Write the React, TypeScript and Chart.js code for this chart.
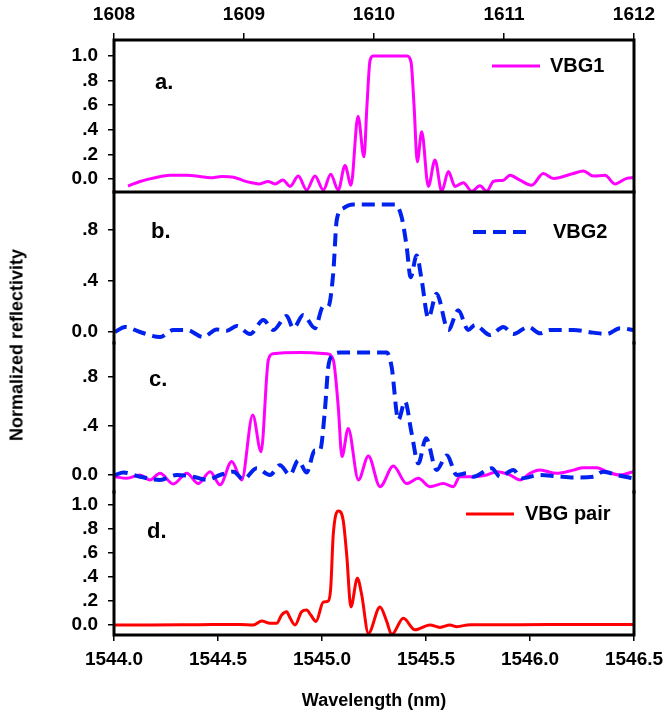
import React, { useEffect, useRef } from 'react';
import { Chart, registerables } from 'chart.js';

Chart.register(...registerables);

const FONT = '"Liberation Sans", Arial, Helvetica, sans-serif';
const MAGENTA = '#ff00ff';
const BLUE = '#0022ee';
const RED = '#ff0000';

// ---------- tick labels ----------
const X_TOP_TICKS = [1608, 1609, 1610, 1611, 1612];
const X_TOP_LABELS = ['1608', '1609', '1610', '1611', '1612'];
const X_BOTTOM_TICKS = [1544.0, 1544.5, 1545.0, 1545.5, 1546.0, 1546.5];
const X_BOTTOM_LABELS = ['1544.0', '1544.5', '1545.0', '1545.5', '1546.0', '1546.5'];
const Y_TICKS_FULL = [0, 0.2, 0.4, 0.6, 0.8, 1.0];
const Y_LABELS_FULL = ['0.0', '.2', '.4', '.6', '.8', '1.0'];
const Y_TICKS_SPARSE = [0, 0.4, 0.8];
const Y_LABELS_SPARSE = ['0.0', '.4', '.8'];

// ---------- panel a: VBG1 (top wavelength axis, nm) ----------
const VBG1_A_WL = [
  1608.108, 1608.2, 1608.315, 1608.43, 1608.56, 1608.66, 1608.74, 1608.83, 1608.92, 1609.0,
  1609.06, 1609.12, 1609.185, 1609.238, 1609.3, 1609.354, 1609.418, 1609.482, 1609.546, 1609.61,
  1609.667, 1609.725, 1609.777, 1609.823, 1609.877, 1609.923, 1609.946, 1609.969, 1609.992, 1610.12,
  1610.254, 1610.285, 1610.308, 1610.333, 1610.367, 1610.418, 1610.469, 1610.521, 1610.572, 1610.623,
  1610.687, 1610.752, 1610.815, 1610.867, 1610.918, 1610.995, 1611.046, 1611.123, 1611.213, 1611.302,
  1611.38, 1611.533, 1611.61, 1611.687, 1611.777, 1611.854, 1611.944, 1612.0,
];
const VBG1_A_R = [
  -0.057, -0.02, 0.01, 0.03, 0.03, 0.02, 0.01, 0.02, 0.015, -0.015,
  -0.03, -0.04, -0.02, -0.04, -0.008, -0.06, 0.024, -0.09, 0.024, -0.09,
  0.038, -0.09, 0.11, -0.05, 0.51, 0.18, 0.6, 0.96, 1.0, 1.0,
  1.0, 0.95, 0.6, 0.14, 0.385, -0.06, 0.155, -0.1, 0.06, -0.06,
  -0.03, -0.1, -0.055, -0.1, -0.02, -0.01, 0.03, -0.01, -0.05, 0.045,
  0.005, 0.045, 0.065, 0.024, 0.03, -0.04, 0.005, 0.01,
];

// ---------- panel b: VBG2 ----------
const VBG2_B_WL = [
  1544.005, 1544.053, 1544.125, 1544.221, 1544.285, 1544.35, 1544.429, 1544.494, 1544.542, 1544.59,
  1544.654, 1544.718, 1544.766, 1544.83, 1544.862, 1544.91, 1544.966, 1545.006, 1545.03, 1545.054,
  1545.071, 1545.102, 1545.15, 1545.255, 1545.351, 1545.383, 1545.407, 1545.426, 1545.455, 1545.479,
  1545.511, 1545.551, 1545.607, 1545.655, 1545.703, 1545.736, 1545.808, 1545.872, 1545.92, 1545.992,
  1546.048, 1546.096, 1546.208, 1546.304, 1546.369, 1546.433, 1546.497,
];
const VBG2_B_R = [
  0.0, 0.04, 0.0, -0.04, 0.016, 0.016, -0.04, 0.02, 0.01, 0.047,
  -0.016, 0.094, 0.016, 0.125, 0.03, 0.133, 0.03, 0.2, 0.2, 0.46,
  0.88, 0.97, 1.0, 1.0, 1.0, 0.9, 0.67, 0.43, 0.6, 0.41,
  0.11, 0.3, 0.016, 0.17, 0.016, 0.055, -0.024, 0.04, -0.016, 0.04,
  -0.01, 0.016, 0.016, -0.005, -0.016, 0.03, 0.016,
];

// ---------- panel c: VBG1 and VBG2 ----------
const VBG2_C_WL = [
  1544.005, 1544.045, 1544.125, 1544.221, 1544.301, 1544.381, 1544.446, 1544.51, 1544.574, 1544.622,
  1544.686, 1544.75, 1544.798, 1544.846, 1544.886, 1544.926, 1544.966, 1544.99, 1545.014, 1545.03,
  1545.054, 1545.087, 1545.207, 1545.311, 1545.335, 1545.367, 1545.399, 1545.431, 1545.463, 1545.5,
  1545.551, 1545.6, 1545.648, 1545.696, 1545.727, 1545.816, 1545.856, 1545.92, 1545.96, 1546.048,
  1546.128, 1546.208, 1546.304, 1546.352, 1546.417, 1546.497,
];
const VBG2_C_R = [
  0.0, 0.02, -0.014, -0.04, 0.0, -0.014, -0.04, 0.0, 0.027, -0.035,
  0.055, 0.0, 0.08, 0.0, 0.12, 0.02, 0.2, 0.2, 0.53, 0.88,
  0.98, 1.0, 1.0, 1.0, 0.88, 0.45, 0.6, 0.34, 0.095, 0.3,
  0.04, 0.16, 0.0, 0.014, -0.014, 0.055, -0.014, 0.04, -0.027, 0.0,
  -0.01, -0.02, -0.014, 0.027, 0.0, -0.027,
];
const VBG1_C_WL = [
  1544.005, 1544.061, 1544.125, 1544.173, 1544.221, 1544.285, 1544.35, 1544.405, 1544.462, 1544.51,
  1544.566, 1544.614, 1544.667, 1544.707, 1544.742, 1544.765, 1544.894, 1545.023, 1545.054, 1545.078,
  1545.096, 1545.126, 1545.175, 1545.223, 1545.279, 1545.343, 1545.407, 1545.463, 1545.519, 1545.583,
  1545.631, 1545.663, 1545.727, 1545.792, 1545.84, 1545.904, 1545.952, 1546.0, 1546.048, 1546.128,
  1546.208, 1546.256, 1546.321, 1546.369, 1546.433, 1546.497,
];
const VBG1_C_R = [
  -0.014, -0.027, 0.0, -0.04, 0.014, -0.073, 0.014, -0.07, 0.027, -0.08,
  0.11, -0.04, 0.49, 0.19, 0.94, 0.99, 1.0, 0.99, 0.94, 0.56,
  0.15, 0.38, -0.04, 0.155, -0.095, 0.073, -0.07, -0.027, -0.095, -0.07,
  -0.095, -0.014, -0.014, 0.0, 0.027, 0.0, -0.04, 0.014, 0.04, 0.014,
  0.04, 0.06, 0.06, 0.027, 0.0, 0.027,
];

// ---------- panel d: VBG pair ----------
const PAIR_WL = [
  1544.005, 1544.173, 1544.413, 1544.606, 1544.67, 1544.71, 1544.75, 1544.782, 1544.806, 1544.83,
  1544.846, 1544.87, 1544.902, 1544.926, 1544.946, 1544.971, 1545.006, 1545.03, 1545.042, 1545.054,
  1545.08, 1545.102, 1545.119, 1545.139, 1545.17, 1545.191, 1545.223, 1545.279, 1545.311, 1545.335,
  1545.391, 1545.447, 1545.519, 1545.567, 1545.615, 1545.648, 1545.712, 1545.952, 1546.24, 1546.5,
];
const PAIR_R = [
  0.0, 0.0, 0.003, 0.005, 0.0, 0.033, 0.014, 0.014, 0.083, 0.11,
  0.06, 0.0, 0.11, 0.125, 0.083, 0.03, 0.19, 0.2, 0.31, 0.75,
  0.95, 0.87, 0.58, 0.15, 0.39, 0.25, -0.07, 0.15, 0.03, -0.08,
  0.056, -0.04, 0.0, -0.02, 0.0, -0.014, 0.003, 0.003, 0.005, 0.005,
];

const pts = (xs: number[], ys: number[]) => xs.map((x, i) => ({ x, y: ys[i] }));

const framePlugin = {
  id: 'frame',
  afterDatasetsDraw(chart: any, _args: any, opts: any) {
    const { ctx, chartArea: a } = chart;
    const s = opts.sides || {};
    ctx.save();
    ctx.strokeStyle = '#000';
    ctx.lineWidth = 3;
    ctx.lineCap = 'square';
    ctx.beginPath();
    if (s.top) { ctx.moveTo(a.left, a.top); ctx.lineTo(a.right, a.top); }
    if (s.bottom) { ctx.moveTo(a.left, a.bottom); ctx.lineTo(a.right, a.bottom); }
    if (s.left) { ctx.moveTo(a.left, a.top); ctx.lineTo(a.left, a.bottom); }
    if (s.right) { ctx.moveTo(a.right, a.top); ctx.lineTo(a.right, a.bottom); }
    ctx.stroke();
    ctx.restore();
  },
};

const decorPlugin = {
  id: 'decor',
  afterDraw(chart: any, _args: any, opts: any) {
    const { ctx } = chart;
    ctx.save();
    ctx.fillStyle = '#000';
    ctx.textBaseline = 'middle';
    ctx.textAlign = 'left';
    if (opts.label) {
      ctx.font = `bold 22px ${FONT}`;
      ctx.fillText(opts.label, opts.labelX, opts.labelY);
    }
    if (opts.legend) {
      const lg = opts.legend;
      const ds = chart.data.datasets[lg.datasetIndex];
      ctx.strokeStyle = ds.borderColor;
      ctx.lineWidth = ds.borderWidth;
      ctx.setLineDash(ds.borderDash || []);
      ctx.beginPath();
      ctx.moveTo(lg.x1, lg.y);
      ctx.lineTo(lg.x2, lg.y);
      ctx.stroke();
      ctx.setLineDash([]);
      ctx.font = `bold 20px ${FONT}`;
      ctx.fillText(ds.label, lg.textX, lg.y);
    }
    ctx.restore();
  },
};

const tickFont = { family: FONT, size: 19, weight: 'bold' as const };

function yAxis(min: number, max: number, ticks: number[], labels: string[]) {
  return {
    type: 'linear' as const,
    position: 'left' as const,
    min,
    max,
    afterBuildTicks: (s: any) => { s.ticks = ticks.map((v) => ({ value: v })); },
    afterFit: (s: any) => { s.width = 114; s.paddingTop = 0; s.paddingBottom = 0; },
    grid: { drawOnChartArea: false, drawTicks: true, tickLength: 6, color: '#000', lineWidth: 1.5 },
    border: { display: false },
    ticks: { color: '#000', font: tickFont, padding: 10, autoSkip: false, callback: (_v: any, i: number) => labels[i] },
  };
}

function xAxis(position: 'top' | 'bottom', min: number, max: number, ticks: number[], labels: string[], height: number, title?: string) {
  return {
    type: 'linear' as const,
    position,
    min,
    max,
    afterBuildTicks: (s: any) => { s.ticks = ticks.map((v) => ({ value: v })); },
    afterFit: (s: any) => { s.height = height; s.paddingLeft = 0; s.paddingRight = 0; },
    grid: { drawOnChartArea: false, drawTicks: true, tickLength: position === 'top' ? 7 : 6, color: '#000', lineWidth: 1.5 },
    border: { display: false },
    ticks: { color: '#000', font: tickFont, padding: position === 'top' ? 7 : 7, autoSkip: false, maxRotation: 0, callback: (_v: any, i: number) => labels[i] },
    title: title
      ? { display: true, text: title, color: '#000', font: { family: FONT, size: 18, weight: 'bold' as const }, padding: { top: 0, bottom: 5 } }
      : { display: false },
  };
}

const hiddenX = { type: 'linear' as const, display: false, min: 1544, max: 1546.5 };

const baseOptions = (padding: any) => ({
  animation: false as const,
  responsive: false,
  maintainAspectRatio: false,
  layout: { padding },
  elements: { point: { radius: 0 } },
});

const line = (label: string, data: any, color: string, width: number, dash?: number[]) => ({
  label,
  data,
  borderColor: color,
  backgroundColor: color,
  borderWidth: width,
  borderDash: dash,
  pointRadius: 0,
  fill: false,
  cubicInterpolationMode: 'monotone' as const,
});

const DASH = [13, 7];

const panels = [
  {
    top: 0,
    height: 196,
    config: () => ({
      type: 'line',
      data: { datasets: [line('VBG1', pts(VBG1_A_WL, VBG1_A_R), MAGENTA, 3)] },
      options: {
        ...baseOptions({ top: 0, bottom: 4, left: 0, right: 29 }),
        scales: {
          x: xAxis('top', 1608, 1612, X_TOP_TICKS, X_TOP_LABELS, 40),
          y: yAxis(-0.1057, 1.13, Y_TICKS_FULL, Y_LABELS_FULL),
        },
        plugins: {
          legend: { display: false },
          tooltip: { enabled: false },
          frame: { sides: { top: true, bottom: true, left: true, right: true } },
          decor: { label: 'a.', labelX: 155, labelY: 83, legend: { datasetIndex: 0, x1: 492, x2: 540, y: 66, textX: 550 } },
        },
      },
      plugins: [framePlugin, decorPlugin],
    }),
  },
  {
    top: 190,
    height: 155,
    config: () => ({
      type: 'line',
      data: { datasets: [line('VBG2', pts(VBG2_B_WL, VBG2_B_R), BLUE, 4, DASH)] },
      options: {
        ...baseOptions({ top: 2, bottom: 2, left: 0, right: 29 }),
        scales: { x: hiddenX, y: yAxis(-0.0863, 1.098, Y_TICKS_SPARSE, Y_LABELS_SPARSE) },
        plugins: {
          legend: { display: false },
          tooltip: { enabled: false },
          frame: { sides: { left: true, right: true } },
          decor: { label: 'b.', labelX: 151, labelY: 42, legend: { datasetIndex: 0, x1: 473, x2: 532, y: 42, textX: 553 } },
        },
      },
      plugins: [framePlugin, decorPlugin],
    }),
  },
  {
    top: 341,
    height: 153,
    config: () => ({
      type: 'line',
      data: {
        datasets: [
          line('VBG2', pts(VBG2_C_WL, VBG2_C_R), BLUE, 4, DASH),
          line('VBG1', pts(VBG1_C_WL, VBG1_C_R), MAGENTA, 3),
        ],
      },
      options: {
        ...baseOptions({ top: 2, bottom: 2, left: 0, right: 29 }),
        scales: { x: hiddenX, y: yAxis(-0.1388, 1.0776, Y_TICKS_SPARSE, Y_LABELS_SPARSE) },
        plugins: {
          legend: { display: false },
          tooltip: { enabled: false },
          frame: { sides: { left: true, right: true } },
          decor: { label: 'c.', labelX: 149, labelY: 39 },
        },
      },
      plugins: [framePlugin, decorPlugin],
    }),
  },
  {
    top: 490,
    height: 227,
    config: () => ({
      type: 'line',
      data: { datasets: [line('VBG pair', pts(PAIR_WL, PAIR_R), RED, 3)] },
      options: {
        ...baseOptions({ top: 2, bottom: 0, left: 0, right: 29 }),
        scales: {
          x: xAxis('bottom', 1544, 1546.5, X_BOTTOM_TICKS, X_BOTTOM_LABELS, 82, 'Wavelength (nm)'),
          y: yAxis(-0.0833, 1.108, Y_TICKS_FULL, Y_LABELS_FULL),
        },
        plugins: {
          legend: { display: false },
          tooltip: { enabled: false },
          frame: { sides: { bottom: true, left: true, right: true } },
          decor: { label: 'd.', labelX: 147, labelY: 42, legend: { datasetIndex: 0, x1: 466, x2: 514, y: 24, textX: 525 } },
        },
      },
      plugins: [framePlugin, decorPlugin],
    }),
  },
];

function Panel({ top, height, config }: { top: number; height: number; config: () => any }) {
  const ref = useRef<HTMLCanvasElement>(null);
  useEffect(() => {
    if (!ref.current) return;
    const chart = new Chart(ref.current, config());
    return () => chart.destroy();
  }, []);
  return (
    <canvas
      ref={ref}
      width={663}
      height={height}
      style={{ position: 'absolute', left: 0, top, width: 663, height }}
    />
  );
}

export default function App() {
  return (
    <div style={{ position: 'fixed', left: 0, top: 0, width: 663, height: 717, background: '#fff', overflow: 'hidden' }}>
      {panels.map((p, i) => (
        <Panel key={i} top={p.top} height={p.height} config={p.config} />
      ))}
      <div
        style={{
          position: 'absolute',
          left: 17,
          top: 345,
          transform: 'translate(-50%, -50%) rotate(-90deg)',
          whiteSpace: 'nowrap',
          fontFamily: FONT,
          fontWeight: 'bold',
          fontSize: 18,
          color: '#000',
        }}
      >
        Normalized reflectivity
      </div>
    </div>
  );
}
